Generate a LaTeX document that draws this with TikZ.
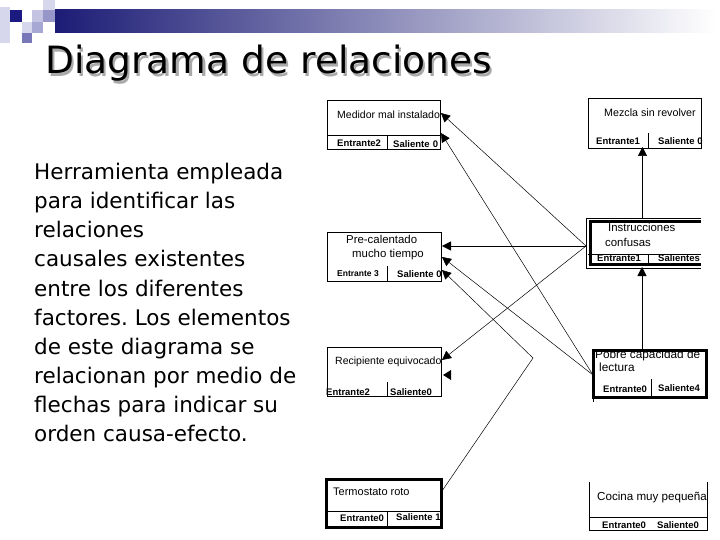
\documentclass[tikz,border=0pt]{standalone}
\usepackage{fontspec}
\setmainfont{DejaVu Sans}
\newfontfamily\arialf{Liberation Sans}
\usetikzlibrary{arrows.meta}
\definecolor{navy}{RGB}{28,28,118}
\definecolor{midlav}{RGB}{182,182,206}
\definecolor{sqA}{RGB}{214,214,236}
\definecolor{sqB}{RGB}{26,26,128}
\definecolor{sqD}{RGB}{196,196,226}
\definecolor{sqE}{RGB}{150,150,200}
\definecolor{sqG}{RGB}{168,168,212}
\definecolor{sqH}{RGB}{120,120,184}
\definecolor{shadowgray}{RGB}{170,170,170}
\tikzset{
  boxthin/.style={draw=black, line width=0.8bp, inner sep=0pt, outer sep=0pt},
  boxthick/.style={draw=black, line width=3bp, inner sep=0pt, outer sep=0pt},
  boxnone/.style={inner sep=0pt, outer sep=0pt},
  btxt/.style={anchor=mid west, inner sep=0pt, font=\arialf\fontsize{10.5bp}{12bp}\selectfont},
  blab/.style={anchor=mid west, inner sep=0pt, font=\arialf\bfseries\fontsize{9.5bp}{11bp}\selectfont},
  bodyline/.style={anchor=base west, inner sep=0pt, font=\fontsize{21.5bp}{29bp}\selectfont},
  conn/.style={black, line width=0.5bp, -{Triangle[length=9bp,width=9bp]}},
  divl/.style={black, line width=0.8bp}
}
\begin{document}
\frenchspacing
\begin{tikzpicture}[x=1bp,y=-1bp]
\useasboundingbox (0,0) rectangle (720,540);
\fill[white] (0,0) rectangle (720,540);
% header decoration
\fill[sqA] (0,7) rectangle (10,43);
\fill[sqB] (10,10) rectangle (22,22);
\fill[sqD] (32,10) rectangle (43,22);
\fill[sqA] (43,0) rectangle (55,10);
\fill[sqE] (43,10) rectangle (55,22);
\fill[sqA] (22,22) rectangle (32,33);
\fill[sqG] (32,22) rectangle (43,33);
\fill[sqH] (22,33) rectangle (32,43);
\shade[left color=navy, middle color=midlav, right color=white] (55,10) rectangle (715,33);
% title with shadow (one node)
\node[anchor=base west, inner sep=0pt, font=\fontsize{36bp}{40bp}\selectfont] (ttl) at (45,74)
  {\resizebox{447bp}{!}{\makebox[0pt][l]{\hspace{2bp}\raisebox{-2bp}{\color{shadowgray}Diagrama de relaciones}}Diagrama de relaciones}};
% body text
\node[bodyline] (l1) at (34,180) {Herramienta empleada};
\node[bodyline] (l2) at (34,209) {para identificar las};
\node[bodyline] (l3) at (34,238) {relaciones};
\node[bodyline] (l4) at (34,267) {causales existentes};
\node[bodyline] (l5) at (34,296) {entre los diferentes};
\node[bodyline] (l6) at (34,325) {factores. Los elementos};
\node[bodyline] (l7) at (34,354) {de este diagrama se};
\node[bodyline] (l8) at (34,383) {relacionan por medio de};
\node[bodyline] (l9) at (34,412) {flechas para indicar su};
\node[bodyline] (l10) at (34,441) {orden causa-efecto.};
% boxes
\node[boxthin, minimum width=113bp, minimum height=49bp] (med) at (383.5,124.5) {};
\node[boxthin, minimum width=113bp, minimum height=50bp] (mez) at (644.5,123) {};
\node[boxthin, minimum width=114bp, minimum height=49bp] (pre) at (384,256.5) {};
\node[boxthin, minimum width=114bp, minimum height=49bp] (rec) at (384,371.5) {};
\node[boxthick, minimum width=115bp, minimum height=48bp] (ter) at (383.5,503) {};
\node[boxthick, minimum width=113bp, minimum height=47bp] (pob) at (649.5,373.5) {};
\node[boxnone, minimum width=115bp, minimum height=50bp] (ins) at (643.5,243) {};
\node[boxnone, minimum width=118bp, minimum height=48bp] (coc) at (648,506) {};
% instrucciones frame
\draw[divl] (ins.north east) -- (ins.north west) -- (ins.south west) -- (ins.south east);
\draw[black, line width=3bp] (701,222) -- (590,222) -- (590,264.5) -- (701,264.5);
% cocina frame (open top)
\draw[divl] (coc.north west) -- (coc.south west) -- (coc.south east) -- (coc.north east);
\draw[divl] (589,517) -- (707,517);
% dividers
\draw[divl] (327,135) -- (440,135);
\draw[divl] (387,135) -- (387,149);
\draw[divl] (648,133) -- (648,148);
\draw[divl] (588,254) -- (701,254);
\draw[divl] (648,254) -- (648,264);
\draw[divl] (387,266) -- (387,281);
\draw[divl] (387,382) -- (387,396);
\draw[divl] (326,511) -- (441,511);
\draw[divl] (387,511) -- (387,527);
\draw[divl] (651,379) -- (651,397);
\draw[divl] (593,397) -- (593,402);
% box texts
\node[btxt] (t1) at (337,115.5) {Medidor mal instalado};
\node[blab] (t1a) at (337,144) {Entrante2};
\node[blab] (t1b) at (393,145) {Saliente\,\,0};
\node[btxt, font=\arialf\fontsize{10.7bp}{12bp}\selectfont] (t2) at (604,114) {Mezcla sin revolver};
\node[blab] (t2a) at (596,142) {Entrante1};
\node[blab] (t2b) at (658,142) {Saliente 0};
\begin{scope}
\clip (586,215) rectangle (701,272);
\node[btxt, font=\arialf\fontsize{11.4bp}{12bp}\selectfont] (t3) at (608,229) {Instrucciones};
\node[btxt, font=\arialf\fontsize{11.4bp}{12bp}\selectfont] (t3c) at (605,244) {confusas};
\node[blab] (t3a) at (597,259) {Entrante1};
\node[blab] (t3b) at (658,259) {Salientes};
\end{scope}
\node[btxt, font=\arialf\fontsize{11.4bp}{12bp}\selectfont] (t4) at (346,240.5) {Pre-calentado};
\node[btxt, font=\arialf\fontsize{11.4bp}{12bp}\selectfont] (t4c) at (352,255) {mucho tiempo};
\node[blab, font=\arialf\bfseries\fontsize{8.5bp}{10bp}\selectfont] (t4a) at (337,274) {Entrante 3};
\node[blab] (t4b) at (397,275) {Saliente 0};
\node[btxt] (t5) at (335,362) {Recipiente equivocado};
\node[blab] (t5a) at (326,393) {Entrante2};
\node[blab] (t5b) at (390,393) {Saliente0};
\node[btxt, font=\arialf\fontsize{11bp}{12bp}\selectfont] (t6) at (333,493) {Termostato roto};
\node[blab] (t6a) at (340,519) {Entrante0};
\node[blab] (t6b) at (396,518) {Saliente 1};
\node[btxt, font=\arialf\fontsize{11.8bp}{12bp}\selectfont] (t7) at (595,356) {Pobre capacidad de};
\node[btxt, font=\arialf\fontsize{11.8bp}{12bp}\selectfont] (t7c) at (599,369) {lectura};
\node[blab] (t7a) at (603,390) {Entrante0};
\node[blab] (t7b) at (658,389) {Saliente4};
\node[btxt, font=\arialf\fontsize{11.6bp}{12bp}\selectfont] (t8) at (597,498) {Cocina muy pequeña};
\node[blab] (t8a) at (602,526) {Entrante0};
\node[blab] (t8b) at (657,526) {Saliente0};
% connector points
\coordinate (insL) at (586,246);
\coordinate (pobL) at (593,375);
\coordinate (kink) at (533,358);
\coordinate (terTR) at (442,491);
\coordinate (medA) at (441,113);
\coordinate (medB) at (441,133);
\coordinate (preA) at (442,246);
\coordinate (preB) at (442,257);
\coordinate (preC) at (442,270);
\coordinate (recA) at (442,360);
\coordinate (mezB) at (642.5,147);
\coordinate (insT) at (642.5,218);
\coordinate (insB) at (642,267);
\coordinate (pobT) at (642,350);
% connectors
\draw[conn] (insL) -- (medA);
\draw[conn] (insL) -- (preA);
\draw[conn] (insL) -- (recA);
\draw[conn] (pobL) -- (medB);
\draw[conn] (pobL) -- (preB);
\draw[conn] (terTR) -- (kink) -- (preC);
\draw[conn] (insT) -- (mezB);
\draw[conn] (pobT) -- (insB);
\fill[black] (443,375) -- (451,370) -- (451,380) -- cycle;
\end{tikzpicture}
\end{document}
